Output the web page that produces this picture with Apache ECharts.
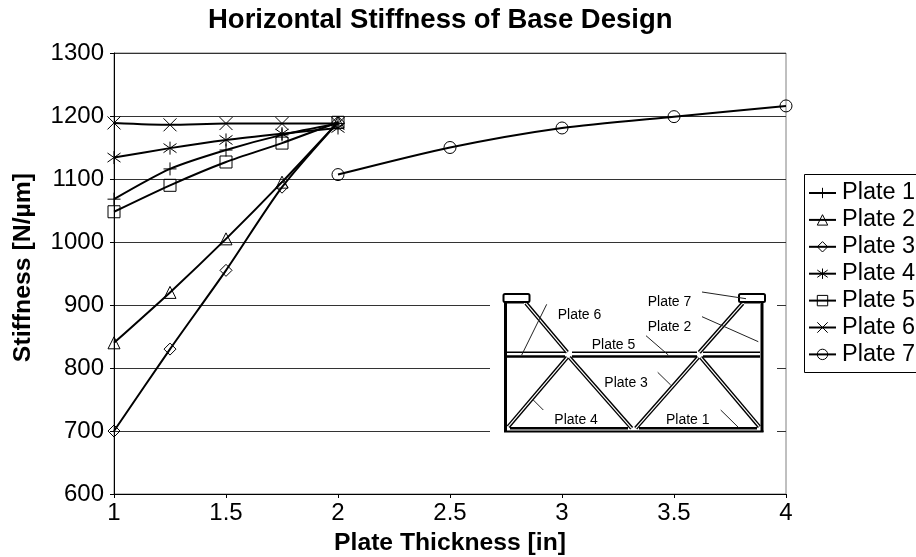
<!DOCTYPE html>
<html><head><meta charset="utf-8">
<style>html,body{margin:0;padding:0;background:#fff}#c{width:916px;height:557px}</style>
<script src="https://cdn.jsdelivr.net/npm/echarts@6/dist/echarts.min.js"></script>
</head><body><div id="c"></div>
<script>
const xA = [1, 1.25, 1.5, 1.75, 2];
const xB = [2, 2.5, 3, 3.5, 4];
const plate1 = [1068, 1116, 1146, 1170, 1188];
const plate2 = [840, 920, 1005, 1095, 1190];
const plate3 = [700, 830, 955, 1087, 1190];
const plate4 = [1134, 1149, 1162, 1172, 1181];
const plate5 = [1048, 1090, 1127, 1157, 1190];
const plate6 = [1189, 1186, 1188, 1188, 1188];
const plate7 = [1107, 1150, 1181, 1199, 1216];
const names = ['Plate 1','Plate 2','Plate 3','Plate 4','Plate 5','Plate 6','Plate 7'];
const FONT = '"Liberation Sans", Arial, sans-serif';
const plus = 'path://M5 0V10M0 5H10';
const star = 'path://M5 0V10M0.5 1.5L9.5 8.5M9.5 1.5L0.5 8.5';
const cross = 'path://M0 1L10 9M10 1L0 9';
function s(name, xs, ys, symbol, size){
  return {name, type:'line', smooth:0.25, data: xs.map((x,i)=>[x,ys[i]]), symbol, symbolSize:size,
    showAllSymbol:true, clip:false, animation:false,
    lineStyle:{color:'#000',width:2}, itemStyle:{color:'transparent',borderColor:'#000',borderWidth:1},
    emphasis:{disabled:true}};
}
const series = [
 s(names[0],xA,plate1,plus,13), s(names[1],xA,plate2,'triangle',12), s(names[2],xA,plate3,'diamond',12),
 s(names[3],xA,plate4,star,13), s(names[4],xA,plate5,'rect',12), s(names[5],xA,plate6,cross,13), s(names[6],xB,plate7,'circle',12)
];
const LS = {stroke:'#222',lineWidth:1};
function L(x1,y1,x2,y2,style){return {type:'line',shape:{x1,y1,x2,y2},style:style||LS,z:21,silent:true};}
function T(text,x,y){return {type:'text',x,y,style:{text,font:'14px '+FONT,fill:'#000',textBaseline:'middle'},z:22,silent:true};}
function W(w){return {stroke:'#000',lineWidth:w};}
function member(x1,y1,x2,y2){
  return [L(x1,y1,x2,y2,W(4)), {type:'line',shape:{x1,y1,x2,y2},style:{stroke:'#fff',lineWidth:1.2},z:21,silent:true}];
}
function foot(x){return {type:'rect',shape:{x,y:294,width:26,height:8,r:1.5},style:{fill:'#fff',stroke:'#000',lineWidth:2},z:21,silent:true};}
const inset = [
 {type:'rect',shape:{x:490,y:280,width:287,height:160},style:{fill:'#fff'},z:20,silent:true},
 L(505.5,300,505.5,432,W(3)), L(762,300,762,432,W(3)), L(504,431.5,763.5,431.5,W(2)),
 L(510,428.3,628,428.3,W(2.5)), L(639,428.3,757,428.3,W(2.5)),
 L(507,352.3,565,352.3,W(1.5)), L(572,352.3,697,352.3,W(1.5)), L(703,352.3,760,352.3,W(1.5)),
 L(507,356.5,565,356.5,W(2.5)), L(572,356.5,697,356.5,W(2.5)), L(703,356.5,760,356.5,W(2.5)),
 L(507,302.5,524,302.5,W(2)), L(744,302.5,760,302.5,W(2)),
 ...member(526,303.3,567.3,352.3), ...member(742.7,303.3,699.3,352.3),
 ...member(567.3,357.3,508.3,426.7), ...member(569.3,357.3,631.7,428.3),
 ...member(698.3,357.3,635.7,428.3), ...member(700.7,357.3,759.3,426.7),
 foot(503.5), foot(739),
 L(546.7,304.3,521.7,355), L(702,292,746,298.7), L(702,316.7,758.3,341.7), L(646,335.7,668.3,355),
 L(657.7,372.3,670.7,385), L(533.3,400,543.3,410), L(720.7,410,738.3,427.3),
 T('Plate 6',557.7,307.7), T('Plate 7',647.7,295), T('Plate 2',647.7,320), T('Plate 5',591.7,338.3),
 T('Plate 3',604.3,376), T('Plate 4',554.3,413.3), T('Plate 1',666,413.3)
];
const chart = echarts.init(document.getElementById('c'),null,{renderer:'canvas'});
chart.setOption({
 animation:false, backgroundColor:'#fff',
 title:{text:'Horizontal Stiffness of Base Design',left:208,top:6,padding:0,
   textStyle:{fontFamily:FONT,fontSize:27.5,fontWeight:'bold',color:'#000'}},
 grid:{left:114,top:53,width:672,height:441,outerBoundsMode:'none',containLabel:false,show:true,borderColor:'#808080',borderWidth:1,backgroundColor:'transparent'},
 xAxis:{type:'value',min:1,max:4,interval:0.5,name:'Plate Thickness [in]',nameLocation:'middle',nameGap:37,
   nameTextStyle:{fontFamily:FONT,fontSize:24.7,fontWeight:'bold',color:'#000'},
   axisLine:{onZero:false,lineStyle:{color:'#000',width:1}},axisTick:{length:4,lineStyle:{color:'#000'}},
   axisLabel:{fontFamily:FONT,fontSize:24,color:'#000',margin:7,showMinLabel:true,showMaxLabel:true},splitLine:{show:false}},
 yAxis:{type:'value',min:600,max:1300,interval:100,name:'Stiffness [N/\u00b5m]',nameLocation:'middle',nameGap:78,
   nameTextStyle:{fontFamily:FONT,fontSize:24.8,fontWeight:'bold',color:'#000',padding:[0,0,0,12]},
   axisLine:{onZero:false,show:true,lineStyle:{color:'#000',width:1}},axisTick:{length:4,lineStyle:{color:'#000'}},
   axisLabel:{fontFamily:FONT,fontSize:24,color:'#000',margin:10,formatter:v=>String(v)},splitLine:{show:true,lineStyle:{color:'#333',width:1}}},
 legend:{orient:'vertical',left:808,top:181,itemGap:2.9,itemWidth:27,itemHeight:13,padding:0,data:names,
   selectedMode:false,itemStyle:{borderWidth:1},lineStyle:{width:2},
   textStyle:{fontFamily:FONT,fontSize:23.5,color:'#000',padding:[0,0,0,1]}},
 graphic:[{type:'rect',shape:{x:804.5,y:174.5,width:118,height:198},style:{fill:'none',stroke:'#000',lineWidth:1},z:1,silent:true}].concat(inset),
 series
});
</script></body></html>
